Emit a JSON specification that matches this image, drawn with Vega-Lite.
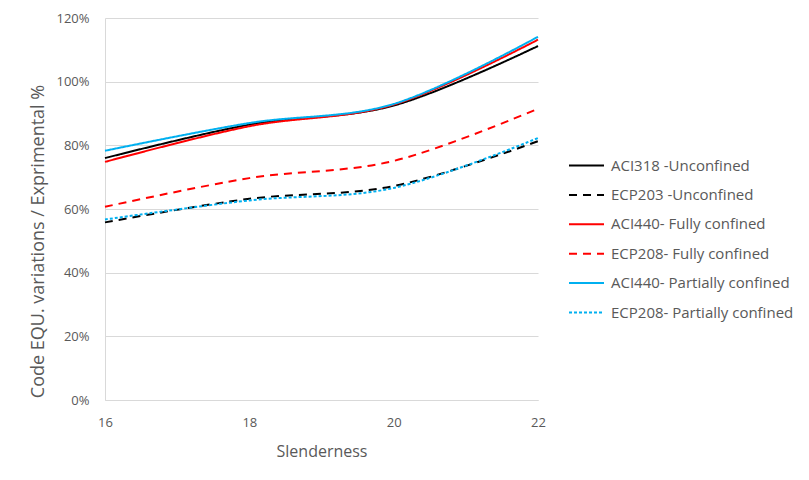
{
  "$schema": "https://vega.github.io/schema/vega-lite/v6.json",
  "autosize": "none",
  "width": 433,
  "height": 382,
  "padding": {"left": 105, "top": 18, "right": 271, "bottom": 80},
  "background": "white",
  "config": {
    "view": {"stroke": null},
    "font": "Open Sans"
  },
  "data": {
    "values": [
      {"s": "ACI318 -Unconfined", "x": 16, "v": 0.76},
      {"s": "ACI318 -Unconfined", "x": 18, "v": 0.865},
      {"s": "ACI318 -Unconfined", "x": 20, "v": 0.925},
      {"s": "ACI318 -Unconfined", "x": 22, "v": 1.112},
      {"s": "ECP203 -Unconfined", "x": 16, "v": 0.558},
      {"s": "ECP203 -Unconfined", "x": 18, "v": 0.632},
      {"s": "ECP203 -Unconfined", "x": 20, "v": 0.672},
      {"s": "ECP203 -Unconfined", "x": 22, "v": 0.813},
      {"s": "ACI440- Fully confined", "x": 16, "v": 0.748},
      {"s": "ACI440- Fully confined", "x": 18, "v": 0.86},
      {"s": "ACI440- Fully confined", "x": 20, "v": 0.928},
      {"s": "ACI440- Fully confined", "x": 22, "v": 1.132},
      {"s": "ECP208- Fully confined", "x": 16, "v": 0.607},
      {"s": "ECP208- Fully confined", "x": 18, "v": 0.697},
      {"s": "ECP208- Fully confined", "x": 20, "v": 0.751},
      {"s": "ECP208- Fully confined", "x": 22, "v": 0.915},
      {"s": "ACI440- Partially confined", "x": 16, "v": 0.783},
      {"s": "ACI440- Partially confined", "x": 18, "v": 0.87},
      {"s": "ACI440- Partially confined", "x": 20, "v": 0.93},
      {"s": "ACI440- Partially confined", "x": 22, "v": 1.141},
      {"s": "ECP208- Partially confined", "x": 16, "v": 0.567},
      {"s": "ECP208- Partially confined", "x": 18, "v": 0.627},
      {"s": "ECP208- Partially confined", "x": 20, "v": 0.666},
      {"s": "ECP208- Partially confined", "x": 22, "v": 0.823}
    ]
  },
  "mark": {"type": "line", "interpolate": "cardinal", "strokeWidth": 2},
  "encoding": {
    "x": {
      "field": "x", "type": "quantitative",
      "scale": {"domain": [16, 22], "nice": false, "zero": false},
      "axis": {
        "values": [16, 18, 20, 22], "title": "Slenderness", "grid": false,
        "ticks": false, "domain": true, "domainColor": "#d9d9d9", "domainWidth": 1,
        "labelFlush": false,
        "labelFontSize": 13, "labelColor": "#595959", "labelPadding": 16,
        "titleFontSize": 16, "titleFontWeight": "normal", "titleColor": "#595959", "titlePadding": 14
      }
    },
    "y": {
      "field": "v", "type": "quantitative",
      "scale": {"domain": [0, 1.2], "nice": false},
      "axis": {
        "values": [0, 0.2, 0.4, 0.6, 0.8, 1.0, 1.2], "format": ".0%",
        "title": "Code EQU. variations  / Exprimental %",
        "grid": true, "gridColor": "#d9d9d9", "gridWidth": 1,
        "ticks": false, "domain": true, "domainColor": "#d9d9d9", "domainWidth": 1,
        "labelFlush": false, "labelOverlap": false,
        "labelFontSize": 13, "labelColor": "#595959", "labelPadding": 16,
        "titleFontSize": 18, "titleFontWeight": "normal", "titleColor": "#595959", "titlePadding": 8,
        "titleY": 223
      }
    },
    "color": {
      "field": "s", "type": "nominal",
      "scale": {
        "domain": ["ACI318 -Unconfined", "ECP203 -Unconfined", "ACI440- Fully confined", "ECP208- Fully confined", "ACI440- Partially confined", "ECP208- Partially confined"],
        "range": ["#000000", "#000000", "#ff0000", "#ff0000", "#00b0f0", "#00b0f0"]
      },
      "legend": {
        "title": null, "orient": "none", "legendX": 463, "legendY": 129,
        "symbolType": "stroke", "symbolSize": 1225, "symbolStrokeWidth": 2,
        "labelFontSize": 15, "labelColor": "#595959", "labelOffset": 6,
        "rowPadding": 2.4, "labelLimit": 300
      }
    },
    "strokeDash": {
      "field": "s", "type": "nominal",
      "scale": {
        "domain": ["ACI318 -Unconfined", "ECP203 -Unconfined", "ACI440- Fully confined", "ECP208- Fully confined", "ACI440- Partially confined", "ECP208- Partially confined"],
        "range": [[1, 0], [8, 6], [1, 0], [8, 6], [1, 0], [3, 2]]
      },
      "legend": null
    }
  }
}
